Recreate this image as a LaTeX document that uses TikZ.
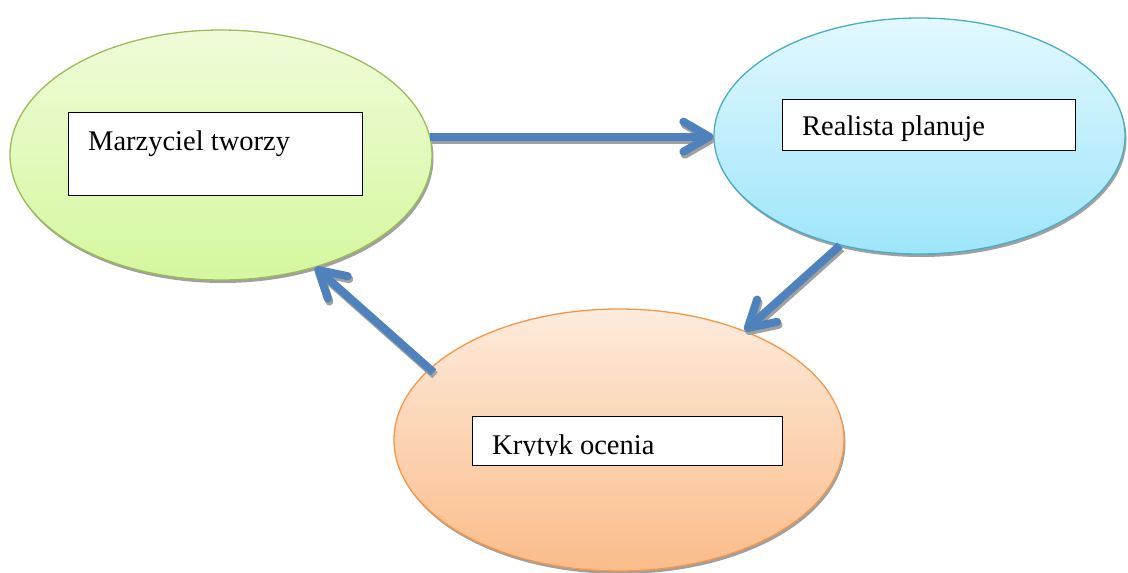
\documentclass[tikz,border=0pt]{standalone}
\usepackage{fontspec}
\setmainfont{Liberation Serif}
\usetikzlibrary{shapes.geometric,shadows,arrows.meta}

\definecolor{greenTop}{RGB}{239,252,216}
\definecolor{greenBot}{RGB}{213,247,158}
\definecolor{greenEdge}{RGB}{155,187,89}
\definecolor{blueTop}{RGB}{226,248,254}
\definecolor{blueBot}{RGB}{158,229,250}
\definecolor{blueEdge}{RGB}{75,172,198}
\definecolor{orangeTop}{RGB}{253,235,220}
\definecolor{orangeBot}{RGB}{251,188,137}
\definecolor{orangeEdge}{RGB}{247,150,70}
\definecolor{arrowBlue}{RGB}{79,129,189}
\definecolor{shadowGray}{RGB}{160,160,160}

\tikzset{
  bubble/.style={ellipse, inner sep=0pt, line width=1.3pt,
    general shadow={fill=shadowGray, shadow xshift=1.5pt, shadow yshift=-3pt}},
  labelbox/.style={draw=black, line width=1.1pt, fill=white, rectangle,
    inner sep=0pt, anchor=north west},
  labeltext/.style={anchor=base west, inner sep=0pt,
    font=\fontsize{28.5}{34}\selectfont},
  flowline/.style={line width=8pt, arrowBlue,
    -{Straight Barb[length=26pt, width=30pt, round]}},
  flowshadow/.style={line width=8pt, shadowGray,
    -{Straight Barb[length=26pt, width=30pt, round]}},
}

\begin{document}
\begin{tikzpicture}[x=1pt, y=-1pt]
\useasboundingbox (0,0) rectangle (1128,573);

% the three bubbles
\node[bubble, draw=greenEdge, top color=greenTop, bottom color=greenBot,
      minimum width=422pt, minimum height=250pt] (g) at (221,155) {};
\node[bubble, draw=blueEdge, top color=blueTop, bottom color=blueBot,
      minimum width=411pt, minimum height=236pt] (b) at (919.5,136) {};
\node[bubble, draw=orangeEdge, top color=orangeTop, bottom color=orangeBot,
      minimum width=450pt, minimum height=262pt] (o) at (619,440) {};

% label boxes
\node[labelbox, minimum width=294pt, minimum height=83pt] (gbox) at (68,112) {};
\node[labeltext] (gtext) at (88,150) {Marzyciel tworzy};

\node[labelbox, minimum width=293pt, minimum height=51pt] (bbox) at (782,99) {};
\node[labeltext] (btext) at (802,135) {Realista planuje};

\node[labelbox, minimum width=310pt, minimum height=49pt] (obox) at (472,416) {};
\begin{scope}
  \clip (472,416) rectangle (782,455);
  \node[labeltext] (otext) at (492,454) {Krytyk ocenia};
\end{scope}

% arrow end points on the bubble borders
\coordinate (gOut) at (g.5.5);
\coordinate (bIn) at (gOut -| b.west);
\coordinate (oOut) at ([shift={(6,2)}]o.160);

% connectors: shadows first, then the blue arrows
\begin{scope}[transform canvas={shift={(1.5pt,-3pt)}}]
  \draw[flowshadow] (gOut) -- (bIn);
  \draw[flowshadow] (b.234.6) -- (o.41.8);
  \draw[flowshadow] (oOut) -- (g.-50.1);
\end{scope}
\draw[flowline] (gOut) -- (bIn);
\draw[flowline] (b.234.6) -- (o.41.8);
\draw[flowline] (oOut) -- (g.-50.1);
\end{tikzpicture}
\end{document}
